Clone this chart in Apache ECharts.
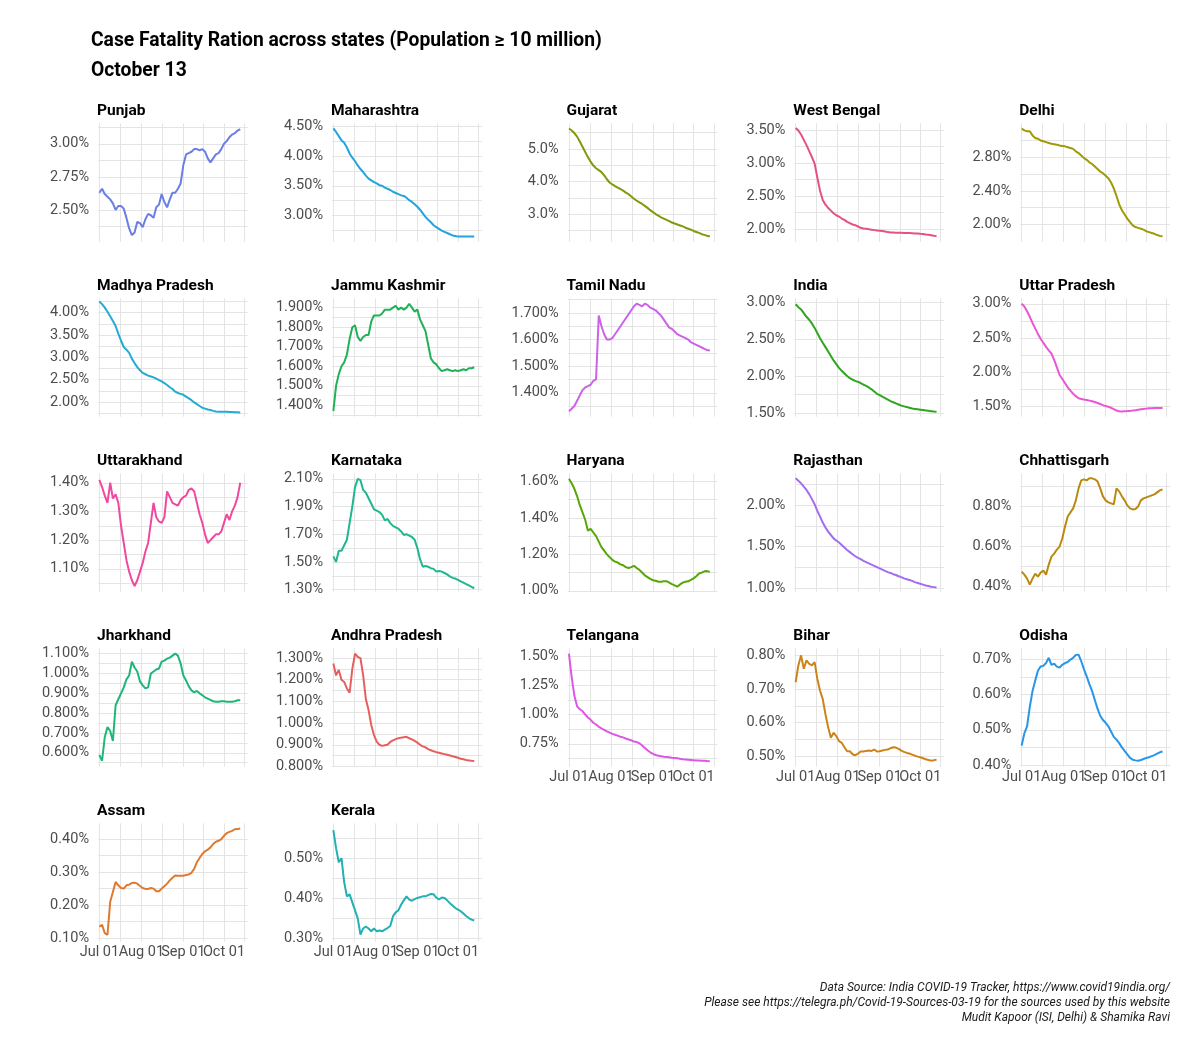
<!DOCTYPE html>
<html><head><meta charset="utf-8">
<script src="https://cdn.jsdelivr.net/npm/echarts@6/dist/echarts.min.js"></script>
<style>html,body{margin:0;padding:0;background:#fff}#chart{width:1200px;height:1057px}</style>
</head><body><div id="chart"></div>
<script>
// ---- data: case fatality ratio (%) every 2 days from Jul 01 (day 0) to Oct 13 (day 104)
const dayStep = 2;
const states = ['Punjab','Maharashtra','Gujarat','West Bengal','Delhi',
  'Madhya Pradesh','Jammu Kashmir','Tamil Nadu','India','Uttar Pradesh',
  'Uttarakhand','Karnataka','Haryana','Rajasthan','Chhattisgarh',
  'Jharkhand','Andhra Pradesh','Telangana','Bihar','Odisha','Assam','Kerala'];
const stateColors = ['#6B7FE3','#22A5DC','#7E9B0C','#E4527F','#A09A05',
  '#22ADD0','#20B157','#CC62E8','#2EA61E','#EC55D3',
  '#F1489F','#20B78E','#58A606','#A46DEE','#BA8A10',
  '#20B579','#E5605C','#DC58E4','#CD8318','#2795EA','#DE7A30','#22B0B2'];

const punjab = [2.63,2.66,2.62,2.60,2.58,2.55,2.50,2.53,2.53,2.51,2.44,2.36,2.31,2.33,2.41,2.40,2.37,2.43,2.47,2.46,2.44,2.52,2.54,2.62,2.56,2.52,2.58,2.63,2.63,2.66,2.70,2.84,2.92,2.93,2.94,2.96,2.96,2.95,2.96,2.94,2.89,2.86,2.89,2.92,2.93,2.96,3.00,3.02,3.05,3.07,3.08,3.10,3.11];
const maharashtra = [4.46,4.40,4.33,4.26,4.22,4.14,4.04,3.97,3.91,3.84,3.78,3.73,3.67,3.62,3.59,3.56,3.54,3.51,3.50,3.47,3.45,3.43,3.40,3.38,3.36,3.34,3.33,3.30,3.26,3.23,3.19,3.15,3.10,3.04,2.98,2.93,2.89,2.84,2.81,2.78,2.75,2.73,2.71,2.69,2.67,2.66,2.65,2.65,2.65,2.65,2.65,2.65,2.65];
const gujarat = [5.63,5.57,5.49,5.38,5.23,5.07,4.91,4.75,4.61,4.49,4.41,4.35,4.29,4.19,4.07,3.97,3.91,3.86,3.81,3.77,3.72,3.66,3.61,3.54,3.47,3.41,3.36,3.31,3.25,3.19,3.12,3.06,3.00,2.95,2.90,2.86,2.82,2.78,2.74,2.71,2.68,2.65,2.62,2.58,2.55,2.52,2.48,2.45,2.42,2.38,2.36,2.33,2.31];
const westBengal = [3.53,3.49,3.43,3.35,3.27,3.18,3.09,2.99,2.78,2.58,2.44,2.37,2.32,2.28,2.24,2.21,2.19,2.16,2.14,2.11,2.09,2.07,2.06,2.04,2.02,2.01,2.005,2.00,1.99,1.985,1.98,1.975,1.97,1.965,1.955,1.95,1.948,1.946,1.945,1.944,1.942,1.94,1.94,1.938,1.935,1.933,1.93,1.928,1.92,1.915,1.908,1.90,1.895];
const delhi = [3.14,3.12,3.11,3.11,3.06,3.03,3.02,3.00,2.99,2.98,2.97,2.96,2.955,2.95,2.94,2.935,2.93,2.92,2.91,2.90,2.87,2.85,2.82,2.79,2.77,2.74,2.72,2.69,2.66,2.63,2.61,2.58,2.55,2.50,2.43,2.34,2.24,2.17,2.12,2.07,2.03,1.99,1.97,1.96,1.95,1.94,1.92,1.91,1.90,1.89,1.875,1.865,1.86];
const madhyaPradesh = [4.25,4.19,4.11,4.02,3.92,3.81,3.70,3.53,3.37,3.23,3.17,3.10,2.97,2.87,2.78,2.71,2.65,2.62,2.59,2.57,2.55,2.52,2.49,2.46,2.42,2.38,2.33,2.29,2.23,2.20,2.18,2.16,2.12,2.08,2.04,1.99,1.95,1.91,1.87,1.85,1.83,1.82,1.80,1.785,1.78,1.78,1.78,1.78,1.775,1.775,1.77,1.77,1.765];
const jammuKashmir = [1.37,1.50,1.56,1.60,1.62,1.66,1.74,1.80,1.81,1.75,1.73,1.75,1.76,1.76,1.83,1.86,1.86,1.86,1.87,1.89,1.89,1.89,1.90,1.91,1.89,1.90,1.89,1.90,1.92,1.90,1.88,1.89,1.84,1.81,1.78,1.71,1.64,1.62,1.61,1.59,1.575,1.58,1.585,1.58,1.575,1.58,1.575,1.58,1.585,1.58,1.59,1.59,1.595];
const tamilNadu = [1.33,1.34,1.35,1.37,1.39,1.41,1.42,1.425,1.43,1.445,1.45,1.69,1.65,1.62,1.60,1.60,1.605,1.62,1.635,1.65,1.665,1.68,1.695,1.71,1.725,1.735,1.73,1.725,1.735,1.73,1.72,1.715,1.71,1.70,1.69,1.675,1.66,1.645,1.64,1.63,1.62,1.615,1.61,1.605,1.60,1.59,1.585,1.58,1.575,1.57,1.565,1.56,1.56];
const india = [2.97,2.93,2.90,2.85,2.80,2.76,2.71,2.65,2.58,2.51,2.45,2.39,2.33,2.27,2.21,2.16,2.11,2.07,2.035,2.00,1.97,1.95,1.935,1.92,1.905,1.885,1.865,1.845,1.82,1.79,1.76,1.74,1.72,1.70,1.68,1.66,1.645,1.63,1.615,1.60,1.59,1.58,1.57,1.56,1.555,1.55,1.545,1.54,1.535,1.53,1.525,1.52,1.518];
const uttarPradesh = [3.00,2.96,2.89,2.81,2.72,2.64,2.56,2.49,2.43,2.37,2.32,2.27,2.18,2.07,1.96,1.90,1.84,1.78,1.73,1.685,1.65,1.62,1.61,1.60,1.595,1.585,1.575,1.565,1.55,1.535,1.52,1.505,1.495,1.48,1.46,1.44,1.43,1.425,1.43,1.432,1.435,1.44,1.445,1.452,1.458,1.463,1.468,1.472,1.475,1.476,1.477,1.477,1.478];
const uttarakhand = [1.41,1.385,1.355,1.33,1.40,1.345,1.36,1.33,1.25,1.19,1.13,1.09,1.06,1.04,1.06,1.09,1.12,1.16,1.19,1.26,1.33,1.28,1.265,1.26,1.28,1.37,1.35,1.33,1.325,1.32,1.34,1.35,1.355,1.375,1.38,1.37,1.33,1.29,1.26,1.22,1.19,1.20,1.21,1.22,1.22,1.23,1.26,1.29,1.27,1.30,1.32,1.35,1.40];
const karnataka = [1.54,1.50,1.58,1.58,1.62,1.66,1.78,1.90,2.04,2.10,2.09,2.02,2.00,1.96,1.92,1.88,1.87,1.86,1.84,1.80,1.81,1.78,1.76,1.75,1.74,1.72,1.695,1.70,1.69,1.68,1.66,1.60,1.52,1.465,1.47,1.465,1.455,1.45,1.43,1.435,1.43,1.42,1.41,1.395,1.385,1.38,1.37,1.36,1.35,1.34,1.33,1.32,1.31];
const haryana = [1.615,1.59,1.56,1.52,1.47,1.43,1.39,1.33,1.34,1.32,1.30,1.27,1.24,1.22,1.20,1.185,1.17,1.16,1.155,1.145,1.14,1.13,1.125,1.13,1.137,1.125,1.115,1.10,1.085,1.075,1.065,1.058,1.055,1.05,1.05,1.052,1.053,1.045,1.037,1.03,1.023,1.035,1.045,1.05,1.052,1.06,1.068,1.08,1.095,1.10,1.107,1.108,1.104];
const rajasthan = [2.32,2.29,2.26,2.22,2.18,2.13,2.07,2.01,1.93,1.86,1.79,1.73,1.68,1.64,1.60,1.575,1.55,1.52,1.49,1.46,1.435,1.41,1.385,1.365,1.35,1.33,1.315,1.30,1.285,1.27,1.255,1.24,1.225,1.21,1.195,1.185,1.17,1.16,1.145,1.135,1.12,1.11,1.10,1.09,1.075,1.065,1.055,1.045,1.035,1.028,1.02,1.015,1.01];
const chhattisgarh = [0.475,0.46,0.44,0.41,0.44,0.465,0.45,0.47,0.48,0.46,0.51,0.55,0.565,0.585,0.60,0.64,0.70,0.75,0.77,0.79,0.83,0.89,0.93,0.935,0.93,0.94,0.94,0.935,0.925,0.89,0.85,0.83,0.82,0.815,0.81,0.89,0.875,0.85,0.83,0.805,0.79,0.785,0.787,0.80,0.83,0.84,0.845,0.85,0.855,0.86,0.87,0.88,0.885];
const jharkhand = [0.59,0.56,0.68,0.73,0.71,0.66,0.84,0.87,0.90,0.93,0.97,0.99,1.06,1.03,1.01,0.96,0.94,0.925,0.93,1.00,1.01,1.02,1.025,1.06,1.065,1.075,1.08,1.09,1.10,1.09,1.05,0.99,0.965,0.935,0.915,0.905,0.912,0.90,0.89,0.88,0.873,0.867,0.86,0.857,0.857,0.86,0.86,0.858,0.858,0.858,0.86,0.865,0.865];
const andhraPradesh = [1.275,1.22,1.245,1.20,1.19,1.16,1.14,1.25,1.32,1.305,1.30,1.22,1.11,1.06,0.99,0.945,0.915,0.90,0.895,0.898,0.90,0.913,0.92,0.926,0.93,0.933,0.935,0.937,0.93,0.925,0.918,0.91,0.90,0.893,0.888,0.88,0.875,0.87,0.866,0.863,0.86,0.857,0.854,0.851,0.847,0.844,0.84,0.836,0.833,0.83,0.828,0.826,0.825];
const telangana = [1.52,1.32,1.16,1.07,1.045,1.03,1.00,0.975,0.955,0.93,0.915,0.895,0.882,0.87,0.857,0.845,0.835,0.828,0.82,0.81,0.805,0.795,0.787,0.78,0.77,0.765,0.755,0.735,0.715,0.695,0.678,0.665,0.655,0.648,0.644,0.64,0.638,0.635,0.632,0.63,0.627,0.622,0.618,0.616,0.614,0.612,0.61,0.608,0.607,0.606,0.605,0.603,0.602];
const bihar = [0.72,0.77,0.80,0.76,0.785,0.775,0.77,0.78,0.73,0.695,0.67,0.625,0.586,0.555,0.57,0.56,0.545,0.54,0.527,0.515,0.515,0.506,0.503,0.508,0.514,0.514,0.516,0.517,0.516,0.52,0.514,0.515,0.517,0.519,0.52,0.524,0.527,0.526,0.522,0.517,0.513,0.51,0.508,0.505,0.502,0.499,0.497,0.494,0.491,0.489,0.487,0.488,0.49];
const odisha = [0.455,0.49,0.51,0.565,0.61,0.64,0.668,0.68,0.682,0.69,0.705,0.685,0.688,0.68,0.677,0.685,0.69,0.693,0.70,0.705,0.713,0.714,0.695,0.672,0.652,0.63,0.61,0.585,0.56,0.54,0.528,0.52,0.51,0.495,0.48,0.472,0.462,0.45,0.44,0.43,0.42,0.415,0.413,0.412,0.414,0.417,0.42,0.422,0.425,0.428,0.432,0.436,0.438];
const assam = [0.135,0.14,0.115,0.11,0.21,0.24,0.27,0.26,0.252,0.25,0.26,0.262,0.267,0.268,0.265,0.258,0.252,0.249,0.249,0.252,0.25,0.242,0.242,0.25,0.257,0.265,0.275,0.283,0.29,0.289,0.289,0.289,0.291,0.293,0.298,0.31,0.33,0.343,0.355,0.363,0.368,0.375,0.385,0.392,0.395,0.40,0.41,0.418,0.422,0.425,0.43,0.431,0.432];
const kerala = [0.57,0.525,0.49,0.50,0.44,0.405,0.41,0.39,0.37,0.35,0.31,0.325,0.33,0.325,0.318,0.325,0.318,0.32,0.318,0.322,0.326,0.331,0.355,0.365,0.37,0.384,0.395,0.405,0.397,0.394,0.398,0.401,0.403,0.405,0.405,0.408,0.411,0.41,0.402,0.397,0.402,0.401,0.395,0.388,0.382,0.376,0.372,0.368,0.362,0.356,0.351,0.347,0.345];

const seriesValues = [punjab, maharashtra, gujarat, westBengal, delhi,
  madhyaPradesh, jammuKashmir, tamilNadu, india, uttarPradesh,
  uttarakhand, karnataka, haryana, rajasthan, chhattisgarh,
  jharkhand, andhraPradesh, telangana, bihar, odisha, assam, kerala];

// ---- axis scales: ranges, tick labels (major) and minor grid values per panel
const yMin = [2.26,2.565,2.15,1.81,1.796, 1.67,1.342,1.31,1.45,1.35, 1.02,1.285,0.995,0.96,0.375, 0.53,0.799,0.555,0.469,0.395, 0.089,0.292];
const yMax = [3.155,4.545,5.79,3.60,3.204, 4.32,1.948,1.755,3.05,3.08, 1.433,2.14,1.645,2.38,0.965, 1.127,1.345,1.565,0.821,0.732, 0.448,0.587];
const yDecimals = [2,2,1,2,2, 2,3,3,2,2, 2,2,2,2,2, 3,3,2,2,2, 2,2];
const yMajor = [
  [2.50,2.75,3.00],[3.00,3.50,4.00,4.50],[3.0,4.0,5.0],[2.00,2.50,3.00,3.50],[2.00,2.40,2.80],
  [2.00,2.50,3.00,3.50,4.00],[1.4,1.5,1.6,1.7,1.8,1.9],[1.4,1.5,1.6,1.7],[1.5,2.0,2.5,3.0],[1.5,2.0,2.5,3.0],
  [1.1,1.2,1.3,1.4],[1.3,1.5,1.7,1.9,2.1],[1.0,1.2,1.4,1.6],[1.0,1.5,2.0],[0.4,0.6,0.8],
  [0.6,0.7,0.8,0.9,1.0,1.1],[0.8,0.9,1.0,1.1,1.2,1.3],[0.75,1.00,1.25,1.50],[0.5,0.6,0.7,0.8],[0.4,0.5,0.6,0.7],
  [0.1,0.2,0.3,0.4],[0.3,0.4,0.5]];
const yMinor = [
  [2.375,2.625,2.875,3.125],[2.75,3.25,3.75,4.25],[2.5,3.5,4.5,5.5],[2.25,2.75,3.25],[2.20,2.60,3.00],
  [1.75,2.25,2.75,3.25,3.75,4.25],[1.35,1.45,1.55,1.65,1.75,1.85],[1.35,1.45,1.55,1.65,1.75],[1.75,2.25,2.75],[1.75,2.25,2.75],
  [1.05,1.15,1.25,1.35],[1.4,1.6,1.8,2.0],[1.1,1.3,1.5],[1.25,1.75,2.25],[0.5,0.7,0.9],
  [0.55,0.65,0.75,0.85,0.95,1.05],[0.85,0.95,1.05,1.15,1.25],[0.625,0.875,1.125,1.375],[0.55,0.65,0.75],[0.45,0.55,0.65],
  [0.15,0.25,0.35],[0.35,0.45,0.55]];
const xTickDays = [0, 31, 62, 92];
const xTickLabels = ['Jul 01', 'Aug 01', 'Sep 01', 'Oct 01'];
const xMinorDays = [15.5, 46.5, 77, 107];

// ---- layout
const colLeft = [98, 332, 567.6, 794.3, 1020.3];
const rowTop = [123.3, 298.3, 473.3, 648.3, 823.3];
const panelW = 149.7, panelH = 118.4;
const showXLabels = [17, 18, 19, 20, 21];
const FONT = 'Roboto';
const gridColor = '#e4e4e4';

const grids = [], xAxes = [], yAxes = [], series = [], titles = [];
titles.push({
  text: 'Case Fatality Ration across states (Population \u2265 10 million)\nOctober 13',
  left: 91, top: 26, padding: 0,
  textStyle: { fontFamily: FONT, fontWeight: 'bold', fontSize: 19.3, lineHeight: 30, color: '#000' }
});
const xLabelStyle = { fontFamily: FONT, fontSize: 14.5, color: '#4d4d4d', margin: 3,
  showMinLabel: true, showMaxLabel: true, hideOverlap: false,
  formatter: v => xTickLabels[xTickDays.indexOf(v)] };
states.forEach((name, i) => {
  const r = Math.floor(i / 5), c = i % 5;
  grids.push({ left: colLeft[c], top: rowTop[r], width: panelW, height: panelH, containLabel: false });
  titles.push({
    text: name, left: colLeft[c] - 1, top: rowTop[r] - 20, padding: 0,
    textStyle: { fontFamily: FONT, fontWeight: 'bold', fontSize: 15.5, lineHeight: 16, color: '#000' }
  });
  xAxes.push({
    type: 'value', gridIndex: i, min: -1, max: 109.5,
    axisLine: { show: false },
    axisTick: { show: false, customValues: xTickDays.concat(xMinorDays) },
    splitLine: { show: true, lineStyle: { color: gridColor, width: 1 } },
    axisLabel: Object.assign({}, xLabelStyle, {
      show: showXLabels.indexOf(i) >= 0,
      customValues: xTickDays.filter((d, k) => k % 2 === 0)
    })
  });
  const dec = yDecimals[i];
  yAxes.push({
    type: 'value', gridIndex: i, min: yMin[i], max: yMax[i],
    axisLine: { show: false },
    axisTick: { show: false, customValues: yMajor[i].concat(yMinor[i]) },
    splitLine: { show: true, lineStyle: { color: gridColor, width: 1 } },
    axisLabel: {
      customValues: yMajor[i], margin: 9,
      showMinLabel: true, showMaxLabel: true, hideOverlap: false,
      fontFamily: FONT, fontSize: 14.5, color: '#4d4d4d',
      formatter: v => v.toFixed(dec) + '%'
    }
  });
  series.push({
    type: 'line', name: name, xAxisIndex: i, yAxisIndex: i,
    data: seriesValues[i].map((v, k) => [k * dayStep, v]),
    showSymbol: false, symbol: 'none', smooth: false,
    lineStyle: { color: stateColors[i], width: 2 },
    itemStyle: { color: stateColors[i] }
  });
});
// second label axis for the bottom panels (alternate month labels, so neighbours don't get hidden)
showXLabels.forEach(i => {
  xAxes.push({
    type: 'value', gridIndex: i, min: -1, max: 109.5, position: 'bottom',
    axisLine: { show: false }, axisTick: { show: false }, splitLine: { show: false },
    axisLabel: Object.assign({}, xLabelStyle, {
      show: true, customValues: xTickDays.filter((d, k) => k % 2 === 1)
    })
  });
});

const captionLines = [
  'Data Source: India COVID-19 Tracker, https://www.covid19india.org/',
  'Please see https://telegra.ph/Covid-19-Sources-03-19 for the sources used by this website',
  'Mudit Kapoor (ISI, Delhi) & Shamika Ravi'
];
const graphic = captionLines.map((t, k) => ({
  type: 'text', right: 30, top: 982 + k * 15,
  style: { text: t, font: 'italic 12px ' + FONT, fill: '#1a1a1a' }
}));

const chart = echarts.init(document.getElementById('chart'), null, { renderer: 'canvas' });
chart.setOption({
  animation: false,
  backgroundColor: '#fff',
  title: titles,
  grid: grids,
  xAxis: xAxes,
  yAxis: yAxes,
  series: series,
  graphic: graphic
});
</script></body></html>
